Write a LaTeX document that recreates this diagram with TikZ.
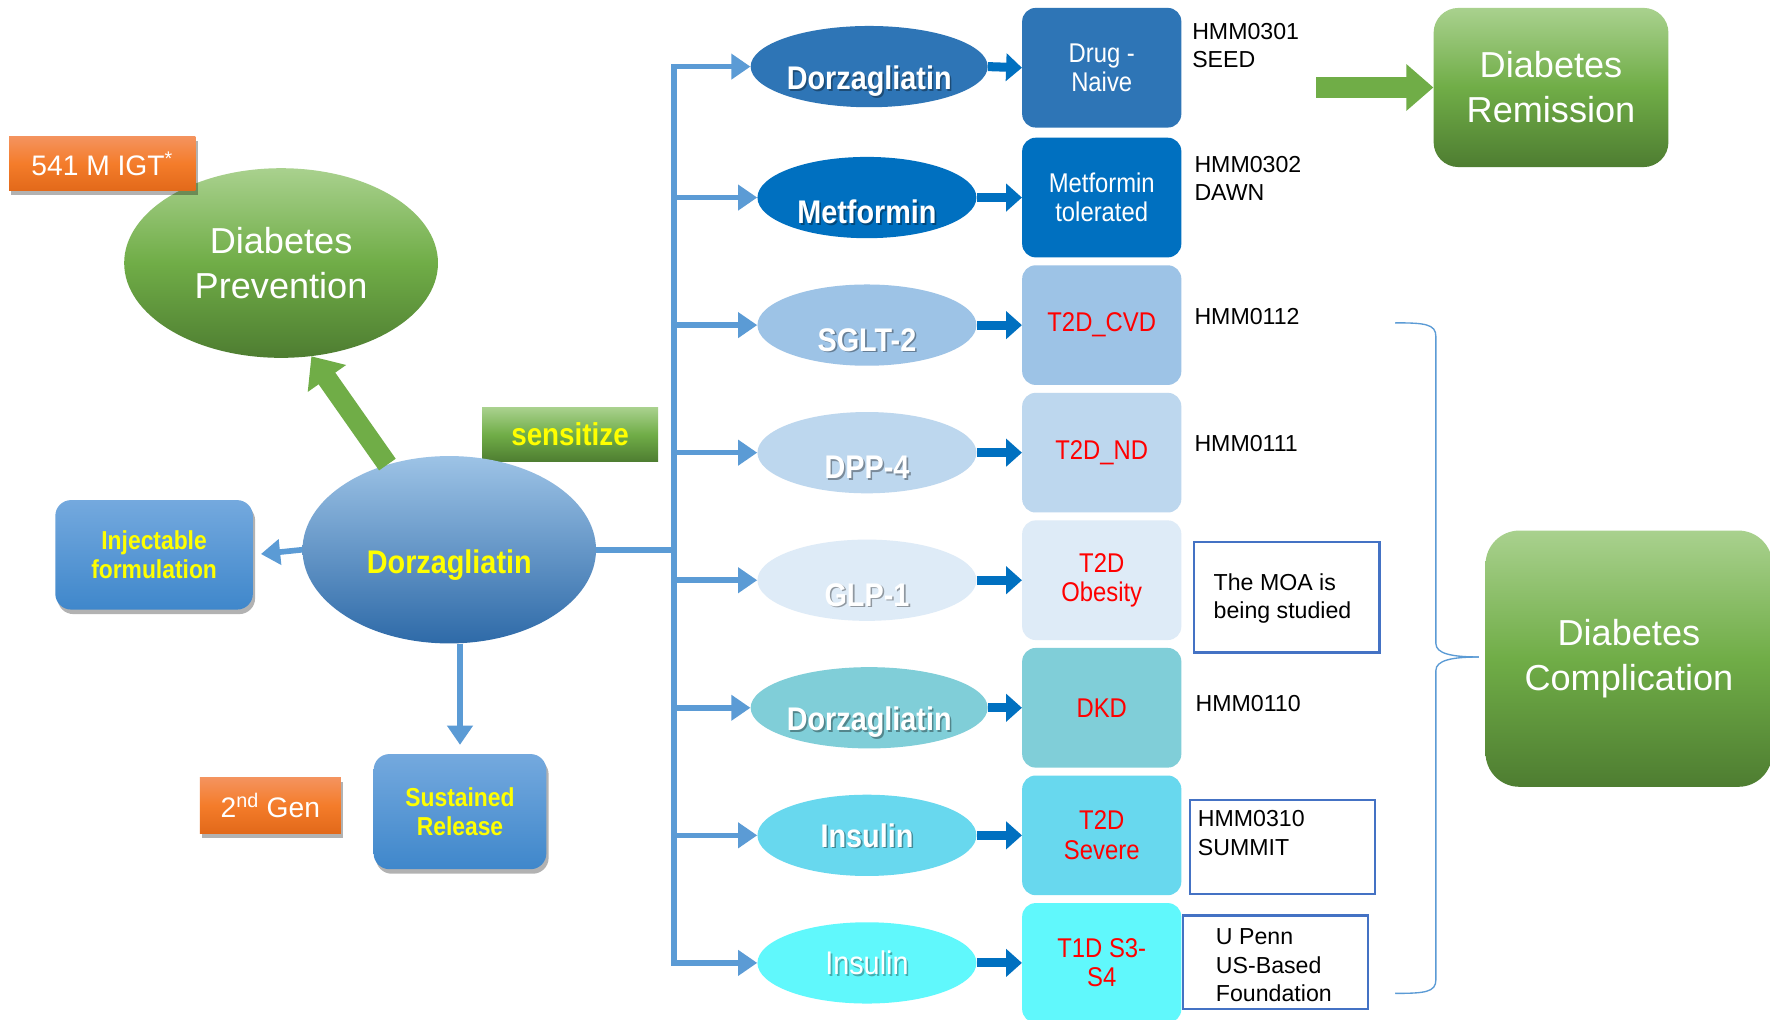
\documentclass[tikz,border=0pt]{standalone}
\usepackage{fontspec}
\setmainfont{Liberation Sans}
\newfontfamily\nar[FakeStretch=0.88]{Liberation Sans}
\usetikzlibrary{shapes.geometric,arrows.meta,shadows}
\definecolor{cA}{HTML}{2E75B6}
\definecolor{cB}{HTML}{0070C0}
\definecolor{cC}{HTML}{9DC3E6}
\definecolor{cD}{HTML}{BDD7EE}
\definecolor{cE}{HTML}{DEEBF7}
\definecolor{cF}{HTML}{80CED8}
\definecolor{cG}{HTML}{68D8EE}
\definecolor{cH}{HTML}{60F8FC}
\definecolor{busc}{HTML}{5B9BD5}
\definecolor{gtop}{HTML}{A9D18E}
\definecolor{gmid}{HTML}{70AD47}
\definecolor{gbot}{HTML}{4E7D31}
\definecolor{otop}{HTML}{F4935E}
\definecolor{omid}{HTML}{F47C2A}
\definecolor{obot}{HTML}{E2691A}
\definecolor{btop}{HTML}{9DC3E6}
\definecolor{bbot}{HTML}{2E6AA8}
\definecolor{ibtop}{HTML}{74A9DE}
\definecolor{ibbot}{HTML}{3F87CB}
\definecolor{frame}{HTML}{4472C4}
\definecolor{yel}{HTML}{FFFF00}
\definecolor{redt}{HTML}{FF0000}
\begin{document}
\begin{tikzpicture}[x=1pt,y=-1pt,
  ell/.style={ellipse, inner sep=0pt, minimum width=194pt, minimum height=72pt},
  ellw/.style={ell, minimum width=210pt},
  efont/.style={font=\nar\bfseries\fontsize{29}{32}\selectfont},
  etxt/.style={text=white, efont, yshift=-13pt},
  eshd/.style={text=black, text opacity=0.35, efont, yshift=-14.5pt, xshift=1.5pt},
  etxtc/.style={text=white, efont},
  eshdc/.style={text=black, text opacity=0.35, efont, yshift=-1.5pt, xshift=1.5pt},
  rbox/.style={rounded corners=12pt, minimum width=141pt, minimum height=106pt, inner sep=0pt, align=center, font=\nar\fontsize{24}{26}\selectfont},
  lbl/.style={anchor=west, align=left, inner sep=0pt, font=\fontsize{20.5}{25}\selectfont},
  fbox/.style={draw=frame, line width=2pt, inner sep=0pt},
  gshade/.style={top color=gtop, bottom color=gbot, middle color=gmid},
  oshade/.style={top color=otop, bottom color=obot, middle color=omid},
  shad/.style={drop shadow={shadow xshift=2pt, shadow yshift=-4pt, opacity=0.3, fill=black}},
  bigw/.style={text=white, align=center, font=\fontsize{32}{40}\selectfont},
  bus/.style={draw=busc, line width=5pt},
  barrow/.style={draw=busc, line width=5pt, -{Triangle[width=22pt,length=17pt]}},
  darrow/.style={draw=cB, line width=8pt, -{Triangle[width=24pt,length=14pt]}},
  garrow/.style={draw=gmid, line width=18pt, -{Triangle[width=40pt,length=24pt]}},
  brace/.style={draw=busc, line width=1.2pt}
]
\fill[white] (0,0) rectangle (1568,903);
\useasboundingbox (0,0) rectangle (1568,903);

% ---------- left part ----------
\node[ellipse, minimum width=278pt, minimum height=168pt, inner sep=0pt, gshade, bigw] (prev) at (249,233) {Diabetes\\Prevention};
\node[oshade, shad, minimum width=165pt, minimum height=48pt, inner sep=0pt, text=white, font=\fontsize{25}{28}\selectfont] (igt) at (90.5,145) {541 M IGT\textsuperscript{*}};
\node[gshade, minimum width=156pt, minimum height=48pt, inner sep=0pt, text=yel, font=\nar\bfseries\fontsize{28}{30}\selectfont] (sens) at (505,385) {sensitize};
\node[ellipse, minimum width=260pt, minimum height=166pt, inner sep=0pt, top color=btop, bottom color=bbot,
  label={[text=yel, font=\nar\bfseries\fontsize{29}{32}\selectfont, yshift=-14pt]center:Dorzagliatin}] (main) at (398,487) {};
\node[rounded corners=14pt, shad, top color=ibtop, bottom color=ibbot, minimum width=175pt, minimum height=97pt, inner sep=0pt, align=center, text=yel, font=\nar\bfseries\fontsize{23}{26}\selectfont] (inj) at (136.5,491.5) {Injectable\\formulation};
\node[rounded corners=14pt, shad, top color=ibtop, bottom color=ibbot, minimum width=153pt, minimum height=102pt, inner sep=0pt, align=center, text=yel, font=\nar\bfseries\fontsize{23}{26}\selectfont] (sr) at (407.5,719) {Sustained\\Release};
\node[oshade, shad, minimum width=125pt, minimum height=49pt, inner sep=0pt, text=white, font=\fontsize{25}{28}\selectfont] (gen) at (239.5,713.5) {2\textsuperscript{nd} Gen};

\draw[garrow] (main.126) -- (prev.-72);
\draw[barrow, shorten >=7pt] (main.west) -- (inj.east);
\draw[barrow, shorten >=8pt] (main.south -| sr) -- (sr.north);

% ---------- bus ----------
\coordinate (t1) at (597,59);
\coordinate (t2) at (597,175);
\coordinate (t3) at (597,288);
\coordinate (t4) at (597,401);
\coordinate (t5) at (597,514);
\coordinate (t6) at (597,627);
\coordinate (t7) at (597,740);
\coordinate (t8) at (597,853);
\coordinate (tm) at (597,487);
\draw[bus, line cap=rect] (t1) -- (t8);
\draw[bus] (main.east) -- (tm);

% ---------- rows ----------
\node[ellw, fill=cA, label={[eshd]center:Dorzagliatin}, label={[etxt]center:Dorzagliatin}] (e1) at (770,59) {};
\node[ell, fill=cB, label={[eshd]center:Metformin}, label={[etxt]center:Metformin}] (e2) at (768,175) {};
\node[ell, fill=cC, label={[eshd]center:SGLT-2}, label={[etxt]center:SGLT-2}] (e3) at (768,288) {};
\node[ell, fill=cD, label={[eshd]center:DPP-4}, label={[etxt]center:DPP-4}] (e4) at (768,401) {};
\node[ell, fill=cE, label={[eshd]center:GLP-1}, label={[etxt]center:GLP-1}] (e5) at (768,514) {};
\node[ellw, fill=cF, label={[eshd]center:Dorzagliatin}, label={[etxt]center:Dorzagliatin}] (e6) at (770,627) {};
\node[ell, fill=cG, label={[eshdc]center:Insulin}, label={[etxtc]center:Insulin}] (e7) at (768,740) {};
\node[ell, fill=cH, label={[text=black, text opacity=0.3, font=\nar\fontsize{29}{32}\selectfont, xshift=1.5pt, yshift=-1.5pt]center:Insulin}, label={[text=white, font=\nar\fontsize{29}{32}\selectfont]center:Insulin}] (e8) at (768,853) {};

\node[rbox, fill=cA, text=white] (b1) at (976,60) {Drug -\\Naive};
\node[rbox, fill=cB, text=white] (b2) at (976,175) {Metformin\\tolerated};
\node[rbox, fill=cC, text=redt] (b3) at (976,288) {T2D\_CVD};
\node[rbox, fill=cD, text=redt] (b4) at (976,401) {T2D\_ND};
\node[rbox, fill=cE, text=redt] (b5) at (976,514) {T2D\\Obesity};
\node[rbox, fill=cF, text=redt] (b6) at (976,627) {DKD};
\node[rbox, fill=cG, text=redt] (b7) at (976,740) {T2D\\Severe};
\node[rbox, fill=cH, text=redt] (b8) at (976,853) {T1D S3-\\S4};

\foreach \i in {1,...,8}{
  \draw[barrow] (t\i) -- (e\i.west);
  \draw[darrow] (e\i.east) -- (b\i.west);
}

% ---------- right labels ----------
\node[lbl] (l1) at (1056,40) {HMM0301\\SEED};
\node[lbl] (l2) at (1058,158) {HMM0302\\DAWN};
\node[lbl] (l3) at (1058,280) {HMM0112};
\node[lbl] (l4) at (1058,393) {HMM0111};
\node[fbox, minimum width=164pt, minimum height=98pt] (f5) at (1140,529) {};
\node[lbl] (l5) at (1075,530) {The MOA is\\being studied};
\node[lbl] (l6) at (1059,623) {HMM0110};
\node[fbox, minimum width=164pt, minimum height=83pt] (f7) at (1136,750.5) {};
\node[lbl] (l7) at (1061,738) {HMM0310\\SUMMIT};
\node[fbox, minimum width=164pt, minimum height=83pt] (f8) at (1130,852.5) {};
\node[lbl] (l8) at (1077,855) {U Penn\\US-Based\\Foundation};

% ---------- outcomes ----------
\node[rounded corners=22pt, gshade, bigw, minimum width=208pt, minimum height=141pt, inner sep=0pt] (rem) at (1374,77.5) {Diabetes\\Remission};
\coordinate (gs) at (1166,77.5);
\draw[garrow] (gs) -- (rem.west);

\node[rounded corners=30pt, gshade, bigw, minimum width=254pt, minimum height=227pt, inner sep=0pt] (comp) at (1443,583.5) {Diabetes\\Complication};

\draw[brace] (1236,286) .. controls (1262,286) and (1272,287) .. (1272,298) -- (1272,570)
  .. controls (1272,579) and (1286,582) .. (1310,582);
\draw[brace] (1310,582) .. controls (1286,582) and (1272,585) .. (1272,594) -- (1272,868)
  .. controls (1272,879) and (1262,880) .. (1236,880);
\end{tikzpicture}
\end{document}
